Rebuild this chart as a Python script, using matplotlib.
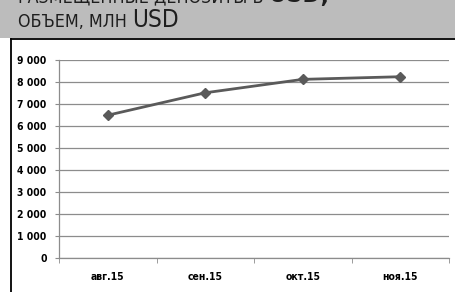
import matplotlib
matplotlib.use("Agg")
import matplotlib.pyplot as plt
from matplotlib.patches import Rectangle
from matplotlib.ticker import FixedLocator

months = ["авг.15", "сен.15", "окт.15", "ноя.15"]
volume = [6490, 7510, 8120, 8240]
yticks = [0, 1000, 2000, 3000, 4000, 5000, 6000, 7000, 8000, 9000]

W, H = 455, 292
fig = plt.figure(figsize=(W / 100, H / 100), dpi=100)
fig.patch.set_facecolor("white")

# grey header band and black-bordered frame
fig.patches.append(Rectangle((0, 1 - 37.5 / H), 1, 37.5 / H, transform=fig.transFigure,
                             facecolor="#bcbcbc", edgecolor="none", zorder=0))
fig.add_artist(plt.Line2D([11 / W, 11 / W], [0, 1 - 38.5 / H], color="black", lw=1.3,
                          transform=fig.transFigure))
fig.add_artist(plt.Line2D([11 / W, 1], [1 - 38.5 / H, 1 - 38.5 / H], color="black", lw=1.3,
                          transform=fig.transFigure))

title_kw = dict(family=["DejaVu Sans"], fontstretch="condensed", color="#1e1e1e",
                va="baseline", ha="left")
# first line, mostly cut off at the top (as in the source)
t1 = fig.text(18 / W, 1 - 2 / H, "РАЗМЕЩЕННЫЕ ДЕПОЗИТЫ В ", fontsize=12.8, **title_kw)
fig.canvas.draw()
bb = t1.get_window_extent()
fig.text(bb.x1 / W, 1 - 2 / H, "USD,", fontsize=17.5, fontweight="bold", **title_kw)
t2 = fig.text(18 / W, 1 - 27 / H, "ОБЪЕМ, МЛН ", fontsize=12.8, **title_kw)
fig.canvas.draw()
bb = t2.get_window_extent()
fig.text(bb.x1 / W, 1 - 27 / H, "USD", fontsize=17.5, **title_kw)

ax = fig.add_axes([59 / W, 1 - 258 / H, (449 - 59) / W, (258 - 60) / H])
x = list(range(len(months)))
ax.plot(x, volume, color="#5a5a5a", lw=2.0, marker="D", markersize=5.5,
        markerfacecolor="#5a5a5a", markeredgecolor="#5a5a5a", zorder=3)

ax.set_xlim(-0.5, len(months) - 0.5)
ax.set_ylim(0, 9000)
ax.set_yticks(yticks)
ax.set_yticklabels([f"{v:,}".replace(",", " ") for v in yticks])
ax.yaxis.grid(True, color="#8c8c8c", lw=0.9)
ax.set_axisbelow(True)

ax.set_xticks(x)
ax.set_xticklabels(months)
ax.xaxis.set_minor_locator(FixedLocator([i - 0.5 for i in range(len(months) + 1)]))
ax.tick_params(axis="x", which="major", length=0, pad=10)
ax.tick_params(axis="x", which="minor", length=3.5, color="#8c8c8c", direction="out")
ax.tick_params(axis="y", length=3, color="#8c8c8c", pad=6)

for lab in ax.get_xticklabels() + ax.get_yticklabels():
    lab.set_fontsize(7.5)
    lab.set_fontweight("bold")
    lab.set_family(["DejaVu Sans"])
    lab.set_fontstretch("condensed")
    lab.set_color("black")

for s in ["top", "right"]:
    ax.spines[s].set_visible(False)
ax.spines["left"].set_color("#8c8c8c")
ax.spines["bottom"].set_color("#8c8c8c")
ax.spines["left"].set_linewidth(0.9)
ax.spines["bottom"].set_linewidth(0.9)

fig.savefig("out.png", dpi=100)
